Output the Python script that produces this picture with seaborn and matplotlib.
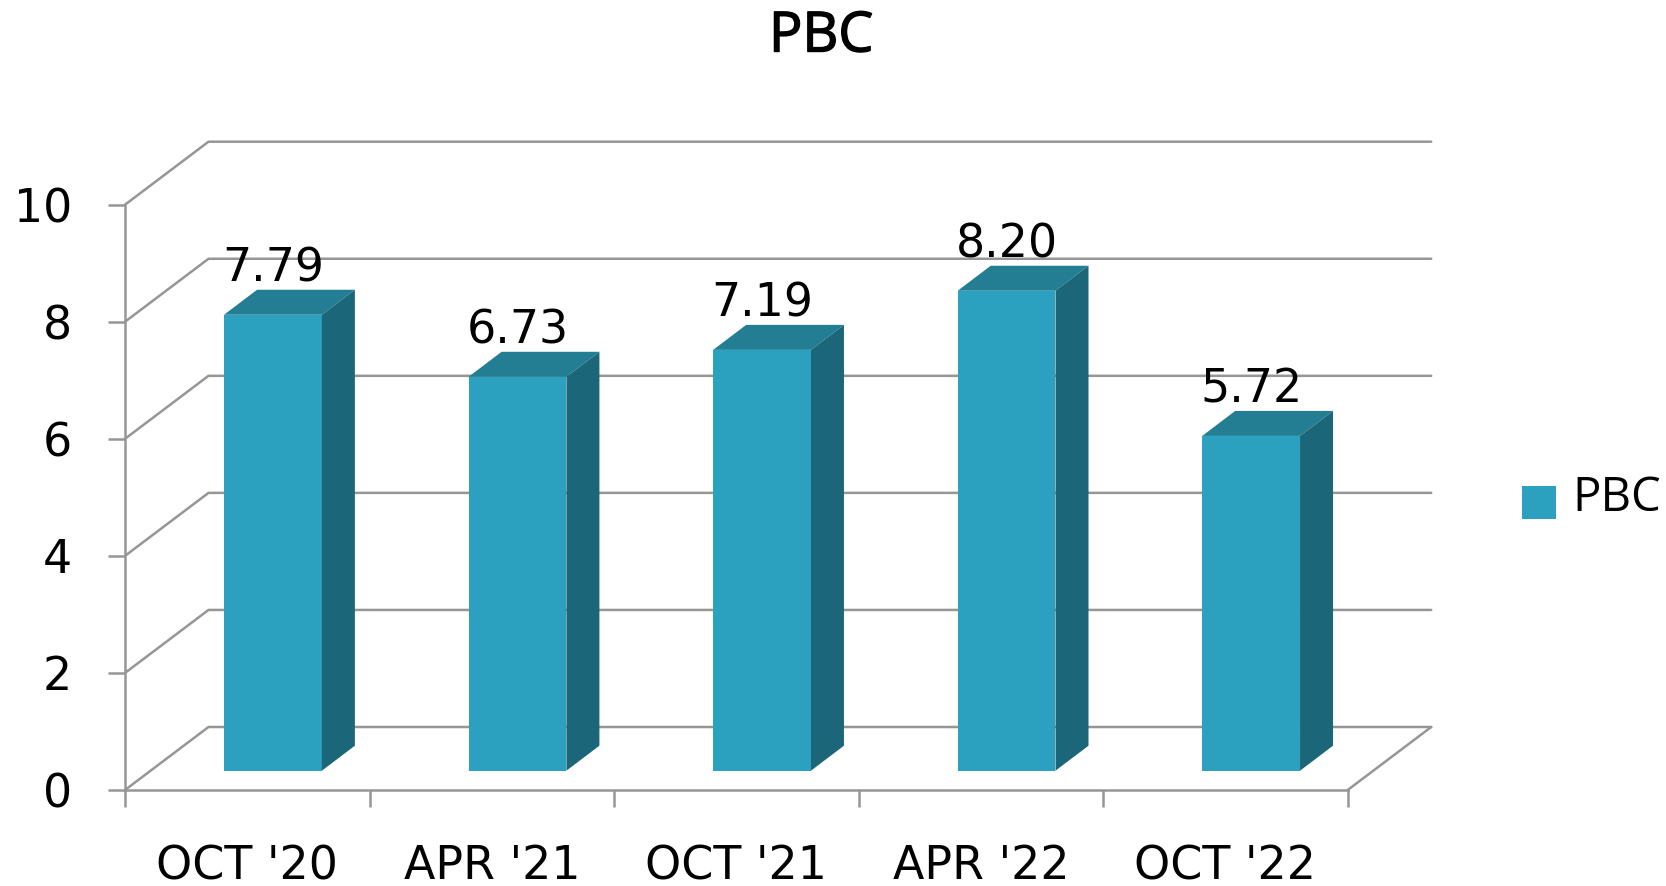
import numpy as np
import pandas as pd
import matplotlib
matplotlib.use('Agg')
import matplotlib.pyplot as plt
import matplotlib.patches as mpatches
import matplotlib.patheffects as pe
import seaborn as sns

# --- Data ---
categories = ["OCT '20", "APR '21", "OCT '21", "APR '22", "OCT '22"]
pbc_values = [7.79, 6.73, 7.19, 8.20, 5.72]
y_ticks = [0, 2, 4, 6, 8, 10]
series_name = 'PBC'

# --- Style ---
FRONT = '#2CA1BF'
TOP = '#237D93'
SIDE = '#1C6679'
GRID = '#969696'
LW = 1.8
W, H = 1666, 886

sns.set_theme(style='white')
plt.rcParams['font.family'] = ['DejaVu Sans']
plt.rcParams['text.color'] = 'black'
plt.rcParams['xtick.labelcolor'] = 'black'
plt.rcParams['ytick.labelcolor'] = 'black'


def px_box(left, right, top, bottom):
    # pixel box (y downwards) to figure fractions
    return [left / W, 1 - bottom / H, (right - left) / W, (bottom - top) / H]


fig = plt.figure(figsize=(W / 100, H / 100), dpi=100)

# front plane of the chart: holds the axis lines, ticks and labels
ax = fig.add_axes(px_box(125, 1347.7, 204.7, 790))
ax.set_xlim(-0.5, len(categories) - 0.5)
ax.set_ylim(0, 10)
ax.patch.set_alpha(0)

# wall offset, in data units of the front plane
wall_dx = 83.5 / 244.5
wall_dy = 63 / 58.53
for v in y_ticks:
    ax.plot([-0.5, -0.5 + wall_dx, len(categories) - 0.5 + wall_dx],
            [v, v + wall_dy, v + wall_dy],
            color=GRID, lw=LW, clip_on=False, zorder=1, solid_joinstyle='miter')
ax.plot([len(categories) - 0.5, len(categories) - 0.5 + wall_dx], [0, wall_dy],
        color=GRID, lw=LW, clip_on=False, zorder=1)

for name in ['top', 'right']:
    ax.spines[name].set_visible(False)
for name in ['left', 'bottom']:
    ax.spines[name].set_color(GRID)
    ax.spines[name].set_linewidth(LW)

ax.set_yticks(y_ticks)
ax.set_xticks(np.arange(len(categories) + 1) - 0.5)
ax.set_xticklabels([])
ax.set_xticks(np.arange(len(categories)), labels=categories, minor=True)
ax.tick_params(axis='y', length=12, width=LW, color=GRID, labelsize=33, pad=26, left=True)
ax.tick_params(axis='x', which='major', length=12, width=LW, color=GRID, bottom=True)
ax.tick_params(axis='x', which='minor', length=0, labelsize=33, pad=39)

# bars sit a bit deeper than the front plane
ax_bar = fig.add_axes(px_box(150.7, 1373.4, 185.4, 770.7), facecolor='none')
df = pd.DataFrame({'period': categories, 'value': pbc_values})
sns.barplot(data=df, x='period', y='value', ax=ax_bar, color=FRONT, saturation=1,
            width=0.4, linewidth=0, edgecolor='none')
ax_bar.set_xlim(-0.5, len(categories) - 0.5)
ax_bar.set_ylim(0, 10)
ax_bar.axis('off')

depth_x = 33 / 244.5
depth_y = 25 / 58.53
for bar, val in zip(ax_bar.patches, pbc_values):
    x0, x1 = bar.get_x(), bar.get_x() + bar.get_width()
    ax_bar.add_patch(mpatches.Polygon(
        [(x0, val), (x1, val), (x1 + depth_x, val + depth_y), (x0 + depth_x, val + depth_y)],
        facecolor=TOP, edgecolor='none', clip_on=False, zorder=3))
    ax_bar.add_patch(mpatches.Polygon(
        [(x1, 0), (x1 + depth_x, depth_y), (x1 + depth_x, val + depth_y), (x1, val)],
        facecolor=SIDE, edgecolor='none', clip_on=False, zorder=3))
    ax_bar.annotate(f'{val:.2f}', xy=((x0 + x1) / 2, val + depth_y), xytext=(0, -1.5),
                    textcoords='offset points', ha='center', va='bottom',
                    fontsize=33, color='black', zorder=5, annotation_clip=False)

title = fig.text(821 / W, 1 - 37 / H, series_name, ha='center', va='center', fontsize=40,
                 color='black', family='Open Sans')
title.set_path_effects([pe.withStroke(linewidth=1.0, foreground='black')])

# legend, placed by hand
fig.add_artist(mpatches.Rectangle((1522 / W, 1 - 519 / H), 34 / W, 33 / H,
                                  transform=fig.transFigure, facecolor=FRONT, edgecolor='none'))
fig.text(1572 / W, 1 - 498 / H, series_name, ha='left', va='center', fontsize=34,
         color='black', family='Open Sans')

plt.savefig('out.png', dpi=100)
